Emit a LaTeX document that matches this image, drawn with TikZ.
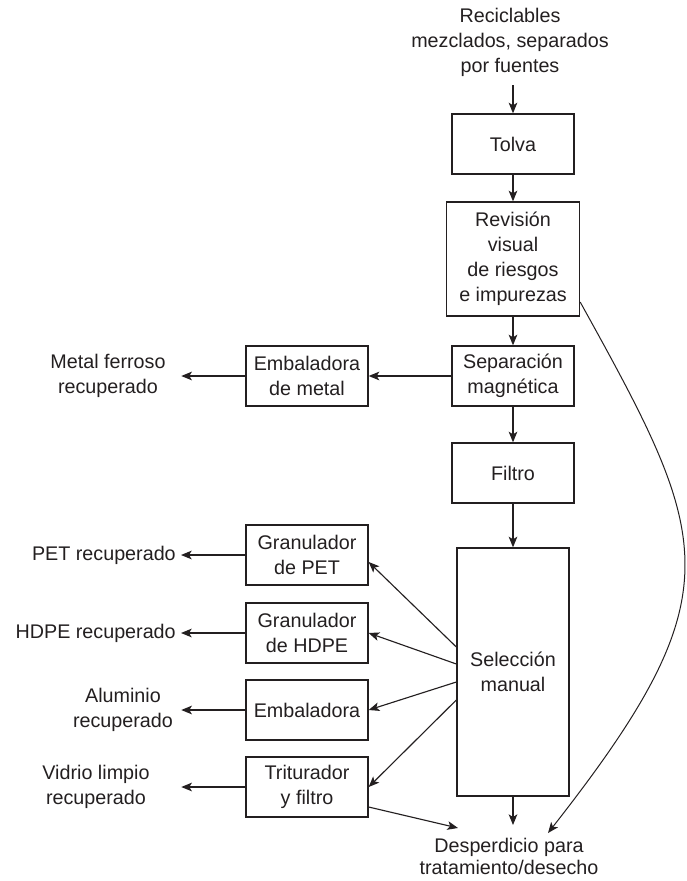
\documentclass[tikz,border=0pt]{standalone}
\usepackage{fontspec}
\setmainfont{Liberation Sans}
\usetikzlibrary{arrows.meta,calc}
\definecolor{ink}{RGB}{35,31,32}
\begin{document}
\begin{tikzpicture}[x=0.75pt,y=-0.75pt,
  every node/.style={font=\fontsize{14.8}{18.75}\selectfont, align=center, text=ink},
  box/.style={draw=ink, line width=1pt, minimum width=91.5pt, minimum height=45pt, inner sep=0pt},
  lbl/.style={inner sep=3.75pt},
  arr/.style={draw=ink, line width=0.85pt, -{Stealth[length=8pt,width=6.5pt,inset=2pt]}}]
\useasboundingbox (0,0) rectangle (686,881);

% main column
\node[lbl] (src) at (510,42) {Reciclables\\mezclados, separados\\por fuentes};
\node[box] (tolva) at (513,144) {Tolva};
\node[box, minimum width=99.75pt, minimum height=85.5pt] (rev) at (513,259) {Revisión\\visual\\de riesgos\\e impurezas};
\node[box] (sep) at (513,376) {Separación\\magnética};
\node[box] (filtro) at (513,473) {Filtro};
\node[box, minimum width=84pt, minimum height=186pt] (sel) at (513,672) {Selección\\manual};

% side column
\node[box] (embm) at (307,376) {Embaladora\\de metal};
\node[box] (gpet) at (307,555) {Granulador\\de PET};
\node[box] (ghdpe) at (307,633) {Granulador\\de HDPE};
\node[box] (emb) at (307,710) {Embaladora};
\node[box] (trit) at (307,787) {Triturador\\y filtro};

% outputs
\node[lbl, minimum width=109.5pt] (ferro) at (108,376) {Metal ferroso\\recuperado};
\node[lbl, anchor=east] (pet) at (181,555) {PET recuperado};
\node[lbl, anchor=east] (hdpe) at (181,633) {HDPE recuperado};
\node[lbl, minimum width=87pt] (alu) at (123,710) {Aluminio\\recuperado};
\node[lbl, minimum width=127.5pt] (vid) at (96,787) {Vidrio limpio\\recuperado};
\node[inner sep=1pt, anchor=north, font=\fontsize{14.8}{16.5}\selectfont] (desp) at (509,837) {Desperdicio para\\tratamiento/desecho};

\coordinate (dm) at (513,825);
\coordinate (dl) at (458,828);
\coordinate (dr) at (548,833);

% main flow
\draw[arr, shorten <=3pt] (tolva.north |- src.south) -- (tolva.north);
\draw[arr] (tolva.south) -- (rev.north);
\draw[arr] (rev.south) -- (sep.north);
\draw[arr] (sep.south) -- (filtro.north);
\draw[arr] (filtro.south) -- (sel.north);
\draw[arr] (sel.south) -- (dm);

% side flows
\draw[arr] (sep.west) -- (embm.east);
\draw[arr] (embm.west) -- (ferro.east);
\draw[arr] ($(sel.west)+(0,-25)$) -- ($(gpet.east)+(0,7)$);
\draw[arr] ($(sel.west)+(0,-8)$) -- (ghdpe.east);
\draw[arr] ($(sel.west)+(0,10)$) -- (emb.east);
\draw[arr] ($(sel.west)+(0,28)$) -- (trit.east);
\draw[arr] (gpet.west) -- (pet.east);
\draw[arr] (ghdpe.west) -- (hdpe.east);
\draw[arr] (emb.west) -- (alu.east);
\draw[arr] (trit.west) -- (vid.east);
\draw[arr] ($(trit.east)+(0,20)$) -- (dl);

% bypass curve
\draw[arr, line width=0.75pt] ($(rev.east)+(0,43)$) .. controls (712,540) and (737,592) .. (dr);
\end{tikzpicture}
\end{document}
